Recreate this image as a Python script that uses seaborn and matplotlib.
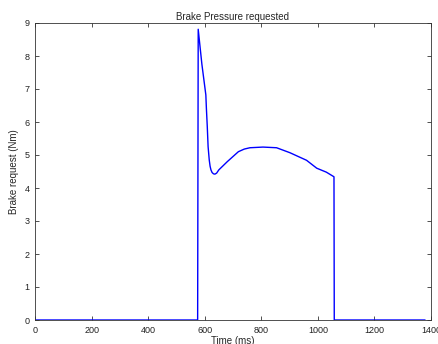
import matplotlib
matplotlib.use("Agg")
import matplotlib.pyplot as plt
import seaborn as sns
import pandas as pd

# Data
time_ms = [0, 575, 577, 590, 604, 606, 609, 612, 616, 619, 622, 626, 631, 636, 642, 650, 680, 719, 740, 760, 806, 854, 901, 960, 996, 1030, 1057, 1058, 1379]
brake = [0, 0, 8.81, 7.75, 6.82, 6.4, 5.87, 5.25, 4.85, 4.66, 4.55, 4.47, 4.43, 4.42, 4.45, 4.55, 4.80, 5.10, 5.18, 5.22, 5.24, 5.22, 5.07, 4.84, 4.60, 4.48, 4.34, 0, 0]

title = "Brake Pressure requested"
xlabel = "Time (ms)"
ylabel = "Brake request (Nm)"

sns.set_style("ticks")
plt.rcParams['font.family'] = ['Liberation Sans', 'DejaVu Sans']

df = pd.DataFrame({"t": time_ms, "b": brake})

fig = plt.figure(figsize=(4.39, 3.44), dpi=100)
ax = fig.add_axes([35/439, 1-320/344, (431-35)/439, (320-23)/344])
sns.lineplot(data=df, x="t", y="b", ax=ax, color=(0, 0, 1), linewidth=1.0, sort=False, estimator=None)

ax.set_xlim(0, 1400)
ax.set_ylim(0, 9)
ax.set_xticks(range(0, 1401, 200))
ax.set_yticks(range(0, 10))
ax.tick_params(direction="in", top=True, right=True, labelsize=6.5, length=3, width=0.6, color="#333333", labelcolor="#222222", pad=4)
for s in ax.spines.values():
    s.set_visible(True)
    s.set_linewidth(0.6)
    s.set_color("#333333")
ax.set_title(title, fontsize=7, pad=2)
ax.set_xlabel(xlabel, fontsize=7, labelpad=1)
ax.set_ylabel(ylabel, fontsize=7, labelpad=4)

fig.savefig("out.png", dpi=100)
